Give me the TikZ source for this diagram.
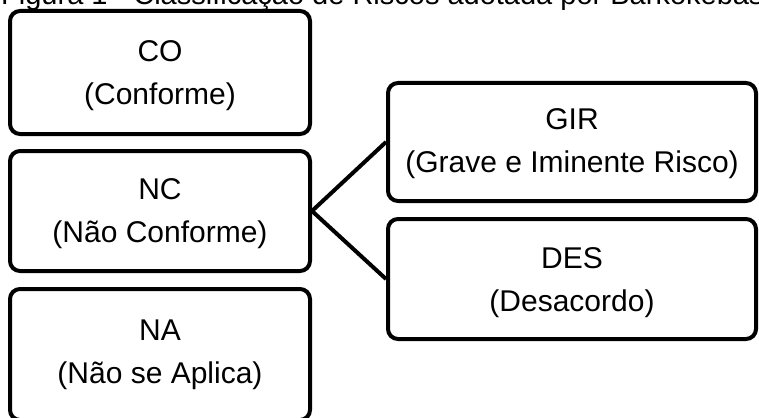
\documentclass[tikz,border=0pt]{standalone}
\usepackage{fontspec}
\setmainfont{Liberation Sans}
\begin{document}
\begin{tikzpicture}[x=1pt,y=-1pt,
  box/.style={draw=black, line width=4pt, rounded corners=10pt, inner sep=0pt,
    align=center, font=\fontsize{30}{43}\selectfont, fill=white},
  link/.style={draw=black, line width=4pt}]
\useasboundingbox (0,0) rectangle (759,417);
\node[anchor=base west, inner sep=0pt, font=\fontsize{29}{35}\selectfont] (title) at (1,5)
  {Figura 1 - Classificação de Riscos adotada por Barkokébas};
\node[box, minimum width=300pt, minimum height=123pt] (co) at (160,72.5) {\rule{0pt}{28pt}CO\\(Conforme)};
\node[box, minimum width=300pt, minimum height=120pt] (nc) at (160,211) {\rule{0pt}{26pt}NC\\(Não Conforme)};
\node[box, minimum width=300pt, minimum height=131pt] (na) at (160,354.5) {NA\\(Não se Aplica)};
\node[box, minimum width=368pt, minimum height=118pt] (gir) at (572,142) {\rule{0pt}{25pt}GIR\\(Grave e Iminente Risco)};
\node[box, minimum width=368pt, minimum height=120pt] (des) at (572,279) {\rule{0pt}{28pt}DES\\(Desacordo)};
\draw[link] (nc.east) -- (gir.west);
\draw[link] (nc.east) -- (des.west);
\end{tikzpicture}
\end{document}
